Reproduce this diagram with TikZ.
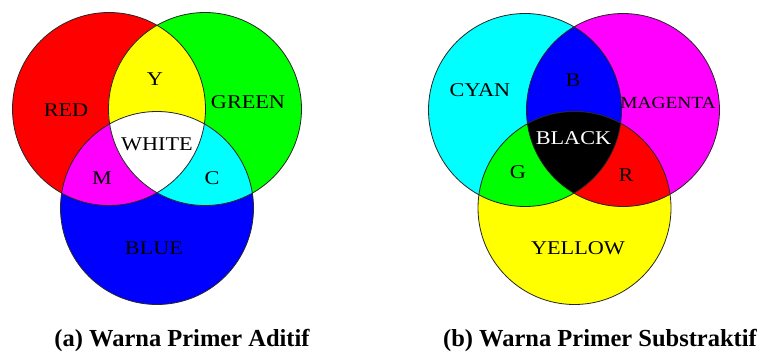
\documentclass[tikz,border=0pt]{standalone}
\usepackage{fontspec}
\setmainfont{Liberation Serif}
\newfontfamily\lblfont[FakeStretch=1.14]{Liberation Serif}
\definecolor{pred}{RGB}{255,0,0}
\definecolor{pgreen}{RGB}{0,255,0}
\definecolor{pblue}{RGB}{0,0,255}
\definecolor{pcyan}{RGB}{0,255,255}
\definecolor{pmagenta}{RGB}{255,0,255}
\definecolor{pyellow}{RGB}{255,255,0}
\tikzset{
  lbl/.style={inner sep=0pt, font=\lblfont\fontsize{19.5}{20}\selectfont},
  smalllbl/.style={inner sep=0pt, font=\lblfont\fontsize{17}{18}\selectfont},
  caption/.style={inner sep=0pt, font=\bfseries\fontsize{24.5}{26}\selectfont},
  ring/.style={draw=black!85, line width=0.8pt}
}
\begin{document}
\begin{tikzpicture}[x=1pt,y=-1pt]
\useasboundingbox (0,0) rectangle (763,354);
\def\rr{96.5pt}
% ---------- left: additive ----------
\coordinate (cR) at (109,109);
\coordinate (cG) at (205,109);
\coordinate (cB) at (157,208);
\fill[pblue] (cB) circle (\rr);
\fill[pred] (cR) circle (\rr);
\fill[pgreen] (cG) circle (\rr);
\begin{scope}\clip (cR) circle (\rr); \fill[pyellow] (cG) circle (\rr); \end{scope}
\begin{scope}\clip (cR) circle (\rr); \fill[pmagenta] (cB) circle (\rr); \end{scope}
\begin{scope}\clip (cG) circle (\rr); \fill[pcyan] (cB) circle (\rr); \end{scope}
\begin{scope}\clip (cR) circle (\rr); \clip (cG) circle (\rr); \fill[white] (cB) circle (\rr); \end{scope}
\draw[ring] (cR) circle (\rr);
\draw[ring] (cG) circle (\rr);
\draw[ring] (cB) circle (\rr);
\node[lbl] (tRed) at (66,110) {RED};
\node[lbl] (tY) at (155,79) {Y};
\node[lbl] (tGreen) at (248,102) {GREEN};
\node[lbl] (tWhite) at (157,144) {WHITE};
\node[lbl] (tM) at (102,178) {M};
\node[lbl] (tC) at (212,178) {C};
\node[lbl] (tBlue) at (154,248) {BLUE};
\node[caption] (capA) at (182,340) {(a) Warna Primer Aditif};
% ---------- right: subtractive ----------
\coordinate (cC) at (525,110);
\coordinate (cM) at (623,110);
\coordinate (cYl) at (574.5,208);
\fill[pyellow] (cYl) circle (\rr);
\fill[pcyan] (cC) circle (\rr);
\fill[pmagenta] (cM) circle (\rr);
\begin{scope}\clip (cC) circle (\rr); \fill[pblue] (cM) circle (\rr); \end{scope}
\begin{scope}\clip (cC) circle (\rr); \fill[pgreen] (cYl) circle (\rr); \end{scope}
\begin{scope}\clip (cM) circle (\rr); \fill[pred] (cYl) circle (\rr); \end{scope}
\begin{scope}\clip (cC) circle (\rr); \clip (cM) circle (\rr); \fill[black] (cYl) circle (\rr); \end{scope}
\draw[ring] (cC) circle (\rr);
\draw[ring] (cM) circle (\rr);
\draw[ring] (cYl) circle (\rr);
\node[lbl] (tCyan) at (480,90) {CYAN};
\node[lbl] (tB) at (573,80) {B};
\node[smalllbl] (tMag) at (668,103) {MAGENTA};
\node[lbl, text=white] (tBlack) at (573.5,138) {BLACK};
\node[lbl] (tG) at (518,172) {G};
\node[lbl] (tR) at (626,175) {R};
\node[lbl] (tYellow) at (578,248) {YELLOW};
\node[caption] (capB) at (600,340) {(b) Warna Primer Substraktif};
\end{tikzpicture}
\end{document}
